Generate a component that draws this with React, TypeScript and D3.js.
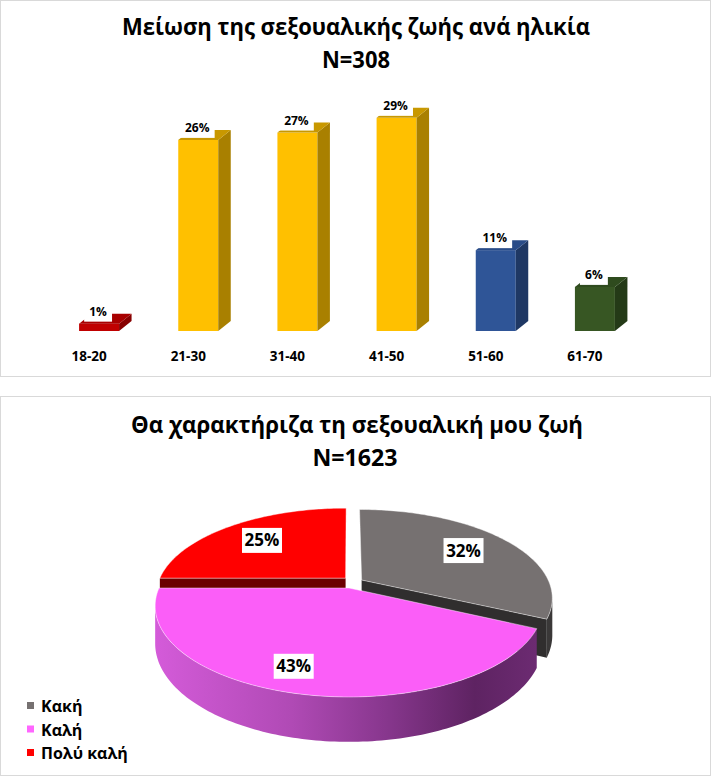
import React from "react";
import * as d3 from "d3";

// ---------- data ----------
const categories = ["18-20", "21-30", "31-40", "41-50", "51-60", "61-70"];
const values = [1, 26, 27, 29, 11, 6];
const barFront = ["#c00000", "#ffc000", "#ffc000", "#ffc000", "#2f5597", "#375623"];
const barTop = ["#a80000", "#c89800", "#c89800", "#c89800", "#2a4c88", "#2f4b1e"];
const barSide = ["#870000", "#a98000", "#a98000", "#a98000", "#1f3864", "#243a17"];

const pieCategories = ["Κακή", "Καλή", "Πολύ καλή"];
const pieValues = [32, 43, 25];
const pieTop = ["#767171", "#fb5ef8", "#ff0000"];
const pieCut = ["#302e2e", "#8a3a8f", "#6b0000"];
const pieSide = ["#3a3838", "url(#pinkSide)", "#800000"];
const pieLegend = ["#767171", "#ff66ff", "#ff0000"];
// explode: [distance, direction deg], label: [radius, angle offset deg]
const pieExplode: [number, number][] = [[0.115, 36], [0, 0], [0.117, 351]];
const pieLabelPos: [number, number][] = [[0.7, 0], [0.8, 5.4], [0.7, 0]];

const FONT = "'Open Sans','Noto Sans','DejaVu Sans',sans-serif";

// pie projection
const CX = 349, CY = 588, RX = 190, RY = 87.4, K = 0.198, TH = 36;
const proj = (u: number, v: number, z: number): [number, number] => {
  const w = 1 + K * v;
  return [CX + (RX * u) / w, CY - (RY * v) / w + (z * TH) / w];
};

export default function App() {
  const W = 712, H = 777;
  const baseY = 331;
  const x = d3
    .scaleBand<string>()
    .domain(categories)
    .range([49.5, 644.5])
    .paddingInner(0.5967)
    .paddingOuter(0.29835);
  const y = d3.scaleLinear().domain([0, 30]).range([baseY, 110.5]);
  const bw = x.bandwidth();
  const dx = 12.5, dy = -10;
  const line = d3.line();

  const pieGen = d3.pie<number>().sort(null).startAngle(0).endAngle(2 * Math.PI);
  const arcs = pieGen(pieValues);
  const silA = Math.PI / 2 + Math.asin(K);
  const silB = 2 * Math.PI - silA;

  const slices = arcs.map((a, i) => {
    const [ed, edir] = pieExplode[i];
    const eu = ed * Math.sin((edir * Math.PI) / 180);
    const ev = ed * Math.cos((edir * Math.PI) / 180);
    const rim = (t: number, z: number) => proj(eu + Math.sin(t), ev + Math.cos(t), z);
    const ctr = (z: number) => proj(eu, ev, z);
    const n = Math.max(4, Math.ceil((a.endAngle - a.startAngle) / 0.02));
    const ts = d3.range(n + 1).map((j) => a.startAngle + ((a.endAngle - a.startAngle) * j) / n);
    const top = line([ctr(0), ...ts.map((t) => rim(t, 0))]) + "Z";
    let side: string | null = null;
    const s0 = Math.max(a.startAngle, silA), s1 = Math.min(a.endAngle, silB);
    if (s1 > s0) {
      const m = Math.max(4, Math.ceil((s1 - s0) / 0.02));
      const ss = d3.range(m + 1).map((j) => s0 + ((s1 - s0) * j) / m);
      side = line([...ss.map((t) => rim(t, 0)), ...ss.slice().reverse().map((t) => rim(t, 1))]) + "Z";
    }
    const cuts: string[] = [];
    if (Math.sin(a.endAngle) > 1e-6) cuts.push(line([ctr(0), rim(a.endAngle, 0), rim(a.endAngle, 1), ctr(1)]) + "Z");
    if (Math.sin(a.startAngle) < -1e-6) cuts.push(line([ctr(0), rim(a.startAngle, 0), rim(a.startAngle, 1), ctr(1)]) + "Z");
    const mid = (a.startAngle + a.endAngle) / 2;
    const [lr, lda] = pieLabelPos[i];
    const lt = mid + (lda * Math.PI) / 180;
    const lab = proj(eu + lr * Math.sin(lt), ev + lr * Math.cos(lt), 0);
    const depth = ev + Math.cos(mid);
    return { i, top, side, cuts, lab, depth, value: a.data };
  });
  const ordered = slices.slice().sort((p, q) => q.depth - p.depth);

  return (
    <svg
      width={W}
      height={H}
      style={{ position: "absolute", left: 0, top: 0, background: "#ffffff" }}
      fontFamily={FONT}
    >
      <defs>
        <linearGradient id="pinkSide" gradientUnits="userSpaceOnUse" x1={155} y1={0} x2={545} y2={0}>
          <stop offset="0" stopColor="#d45bd9" />
          <stop offset="0.35" stopColor="#b04ab5" />
          <stop offset="0.6" stopColor="#86368c" />
          <stop offset="0.82" stopColor="#5e2362" />
          <stop offset="1" stopColor="#6e2c74" />
        </linearGradient>
      </defs>
      <rect x={0} y={0} width={W} height={H} fill="#ffffff" />

      {/* ---------- top chart ---------- */}
      <rect x={0.5} y={0.5} width={710} height={376} fill="none" stroke="#d9d9d9" strokeWidth={1} />
      <text x={356} y={35} fontSize={24} fontWeight="bold" textAnchor="middle" textLength={468} lengthAdjust="spacingAndGlyphs">
        Μείωση της σεξουαλικής ζωής ανά ηλικία
      </text>
      <text x={356} y={68} fontSize={24} fontWeight="bold" textAnchor="middle" textLength={68} lengthAdjust="spacingAndGlyphs">
        N=308
      </text>
      {categories.map((c, i) => {
        const x0 = x(c)!;
        const yt = y(values[i]);
        const lbl = values[i] + "%";
        const tw = (lbl.length - 1) * 6.9 + 10;
        const bwid = tw + 11;
        const lc = x0 + bw / 2 - 1;
        const base = yt - 8;
        return (
          <g key={c}>
            <rect x={x0} y={yt} width={bw} height={baseY - yt} fill={barFront[i]} />
            <path
              d={line([[x0 + bw, yt], [x0 + bw + dx, yt + dy], [x0 + bw + dx, baseY + dy], [x0 + bw, baseY]])! + "Z"}
              fill={barSide[i]}
            />
            <path
              d={line([[x0, yt], [x0 + dx, yt + dy], [x0 + bw + dx, yt + dy], [x0 + bw, yt]])! + "Z"}
              fill={barTop[i]}
            />
            <rect x={lc - bwid / 2} y={base - 12} width={bwid} height={yt - 2 - (base - 12)} fill="#ffffff" />
            <text x={lc} y={base} fontSize={12} fontWeight="bold" textAnchor="middle" fill="#000">
              {lbl}
            </text>
            <text x={x0 + bw / 2 - 10} y={361} fontSize={13.5} fontWeight="bold" textAnchor="middle" fill="#000">
              {c}
            </text>
          </g>
        );
      })}

      {/* ---------- bottom chart ---------- */}
      <rect x={0.5} y={396.5} width={710} height={379} fill="none" stroke="#d9d9d9" strokeWidth={1} />
      <text x={357} y={433} fontSize={24} fontWeight="bold" textAnchor="middle" textLength={452} lengthAdjust="spacingAndGlyphs">
        Θα χαρακτήριζα τη σεξουαλική μου ζωή
      </text>
      <text x={355} y={466} fontSize={24} fontWeight="bold" textAnchor="middle" textLength={85} lengthAdjust="spacingAndGlyphs">
        N=1623
      </text>
      {ordered.map((s) => (
        <g key={s.i}>
          {s.cuts.map((d, j) => (
            <path key={j} d={d} fill={pieCut[s.i]} />
          ))}
          {s.side && <path d={s.side} fill={pieSide[s.i]} />}
          <path d={s.top} fill={pieTop[s.i]} stroke="#ffffff" strokeOpacity={0.55} strokeWidth={0.8} />
        </g>
      ))}
      {slices.map((s) => (
        <g key={"l" + s.i}>
          <rect x={s.lab[0] - 20} y={s.lab[1] - 12.5} width={40} height={25} fill="#ffffff" />
          <text x={s.lab[0]} y={s.lab[1] + 6} fontSize={17} fontWeight="bold" textAnchor="middle" fill="#000">
            {s.value}%
          </text>
        </g>
      ))}
      {pieCategories.map((c, i) => {
        const by = 712 + i * 23.5;
        return (
          <g key={c}>
            <rect x={27} y={by - 10} width={7} height={7} fill={pieLegend[i]} />
            <text x={41} y={by} fontSize={16} fontWeight="bold" fill="#000">
              {c}
            </text>
          </g>
        );
      })}
    </svg>
  );
}
